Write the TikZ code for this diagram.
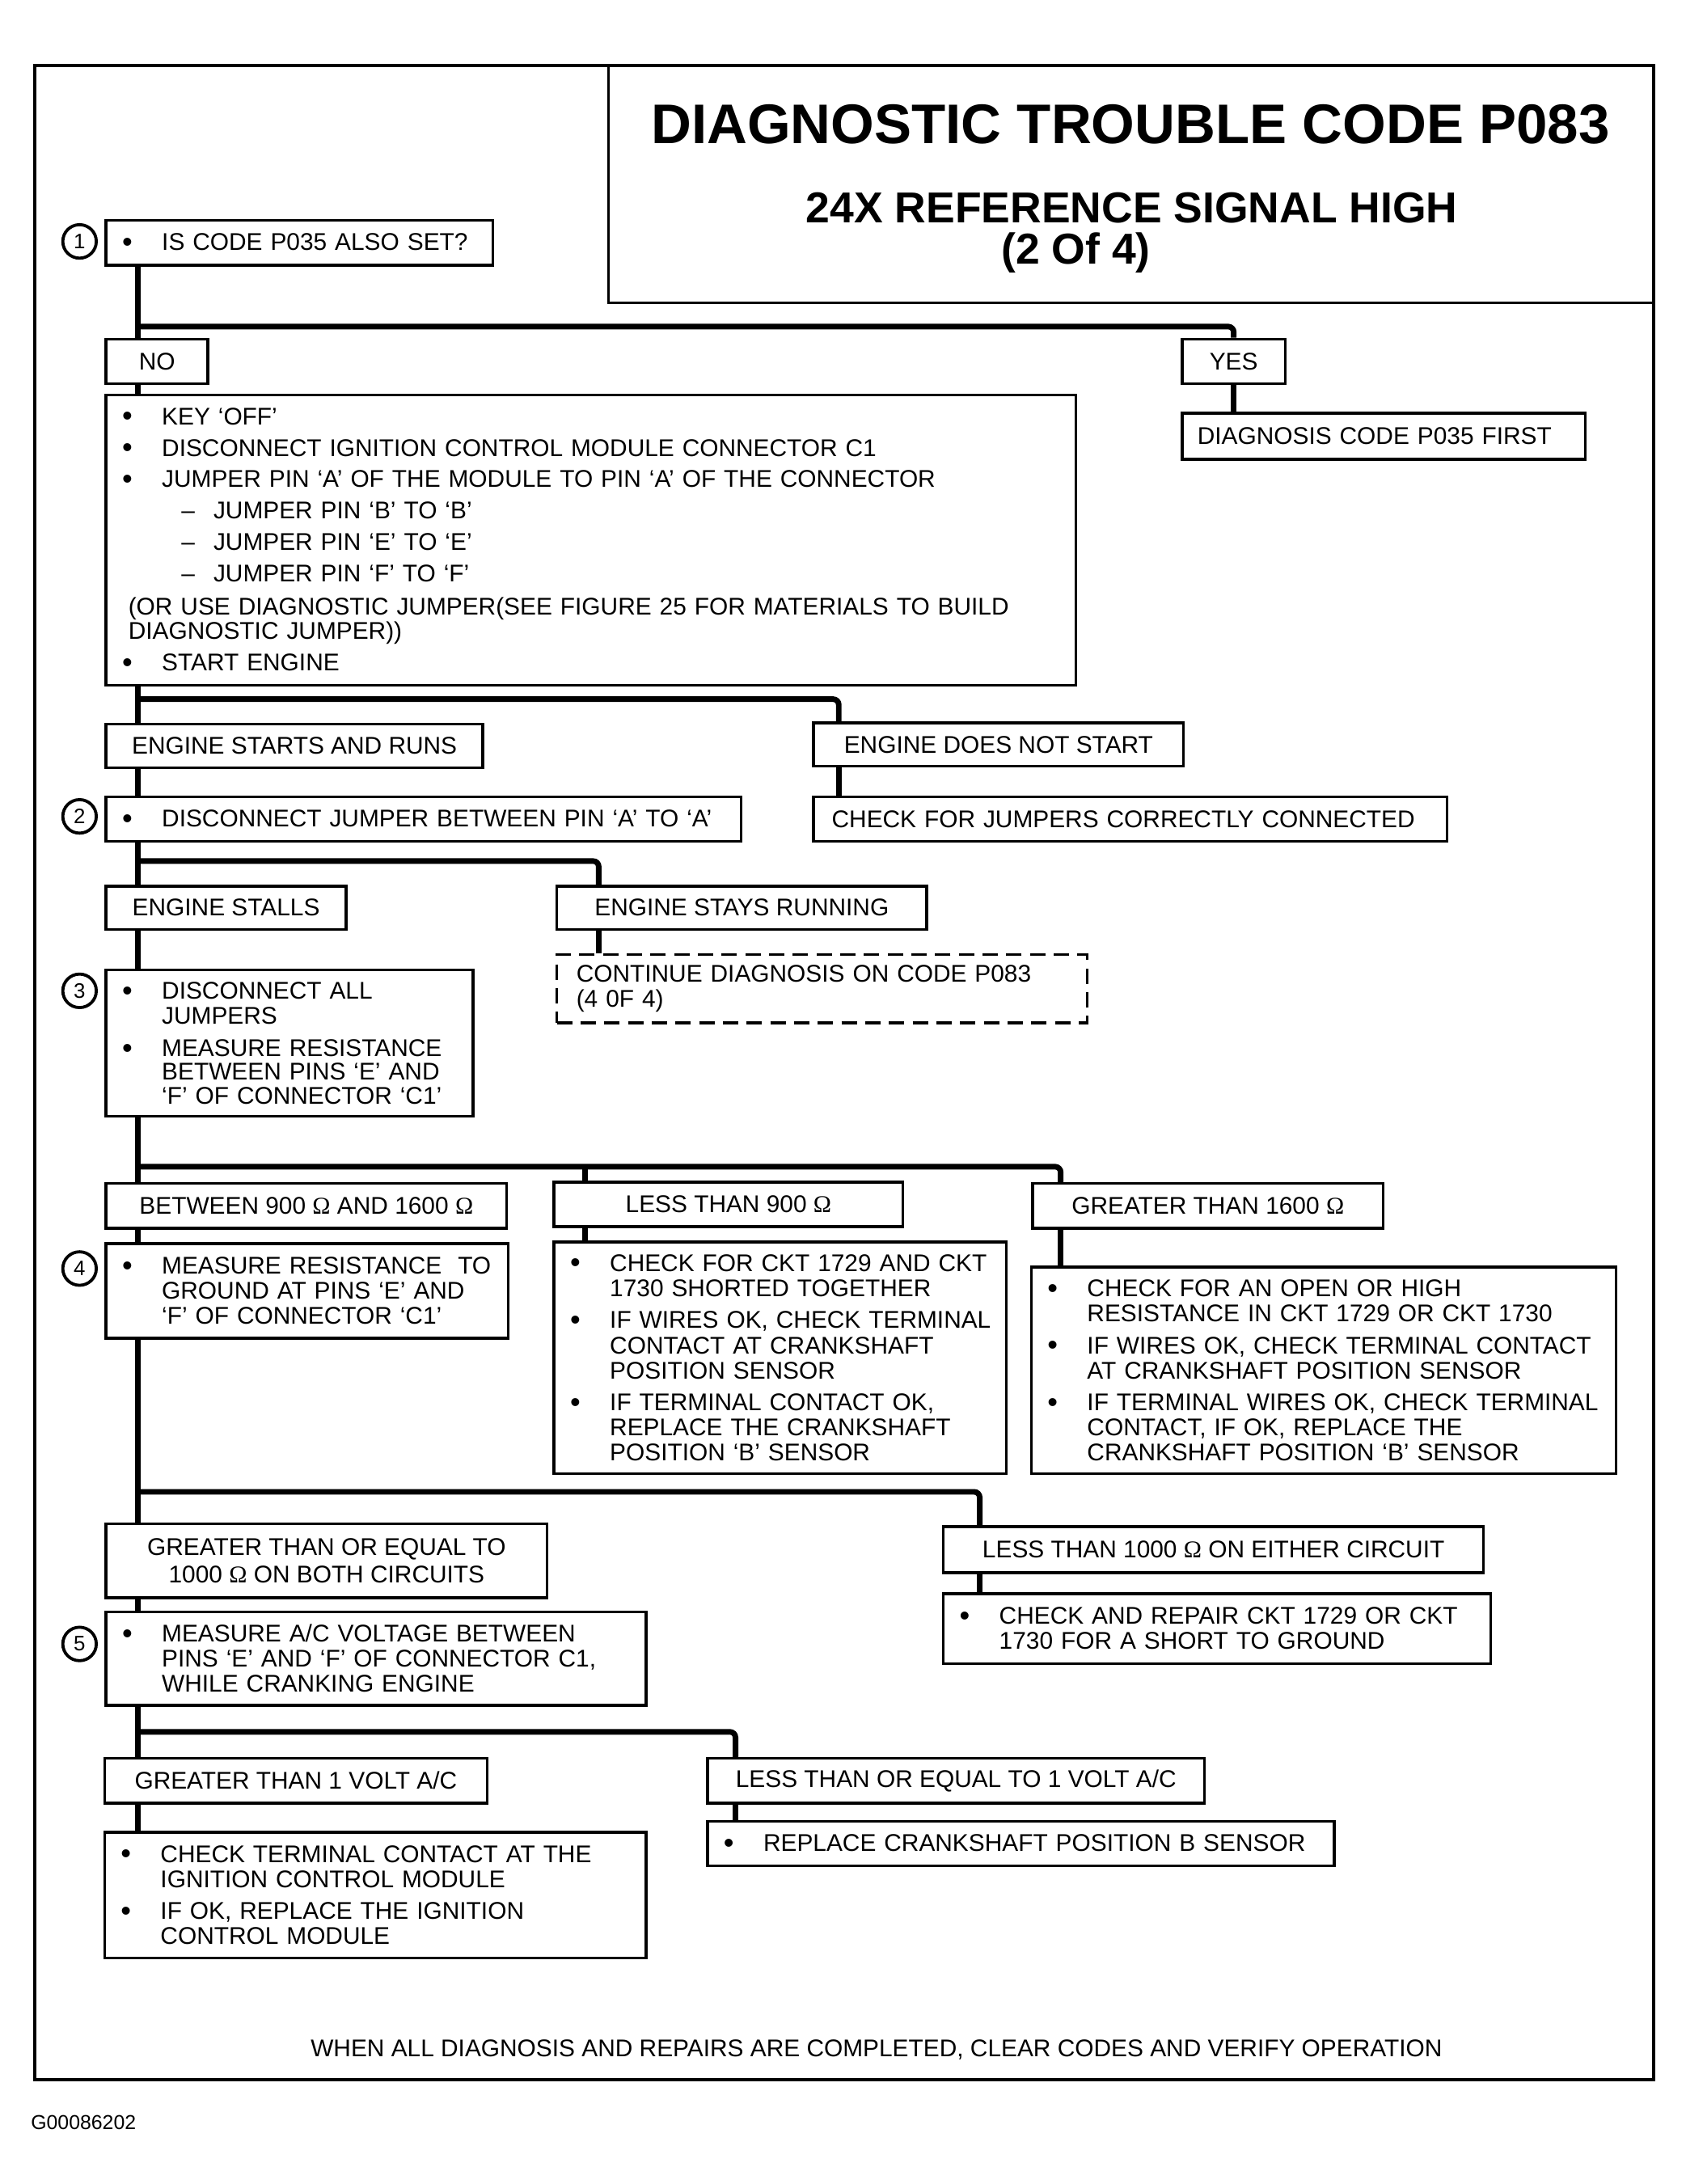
\documentclass[tikz,border=0pt]{standalone}
\usepackage{fontspec}
\setmainfont{Liberation Sans}
\newfontfamily\ohmfont{Liberation Serif}
\newcommand{\ohmsym}{{\ohmfont Ω}}
\newcommand{\bl}{\makebox[32pt][l]{\hspace{3.5pt}\raisebox{-1pt}{\fontsize{21}{18}\selectfont\textbullet}}}
\newcommand{\hg}{\hspace*{32pt}}
\newcommand{\dsh}{\hspace*{46pt}\makebox[23pt][l]{\textendash}}
\tikzset{
  box/.style={draw, line width=2pt, anchor=north west, inner xsep=8pt, inner ysep=0pt,
    font=\fontsize{17.3}{18}\selectfont},
  lbl/.style={box, align=center},
  list/.style={box, align=left},
  conn/.style={line width=4pt, rounded corners=4pt},
  num/.style={circle, draw, line width=2.2pt, minimum size=24pt, inner sep=0pt,
    font=\fontsize{15}{15}\selectfont},
}
\begin{document}
\begin{tikzpicture}[x=1pt, y=-1pt]
  \useasboundingbox (0,0) rectangle (1208,1565);
  % frame and title
  \node[draw, line width=2.2pt, anchor=north west, minimum width=1160pt, minimum height=1443pt] (frame) at (24,46) {};
  \node[draw, line width=2pt, anchor=north west, minimum width=749pt, minimum height=170pt] (titlebox) at (435,46) {};
  \node[font=\fontsize{40}{44}\selectfont\bfseries] (title) at (810,89) {DIAGNOSTIC TROUBLE CODE P083};
  \node[font=\fontsize{31}{34}\selectfont\bfseries] (subtitle) at (811,149) {24X REFERENCE SIGNAL HIGH};
  \node[font=\fontsize{31}{34}\selectfont\bfseries] (part) at (771,181) {(2 Of 4)};
  % step 1
  \node[num] (c1) at (57,173) {1};
  \node[list, minimum width=277pt, minimum height=32pt, text width=261pt] (q1) at (75,157) {\bl IS CODE P035 ALSO SET?};
  \node[lbl, minimum width=73pt, minimum height=32pt] (no) at (75,242) {NO};
  \node[lbl, minimum width=74pt, minimum height=32pt] (yes) at (846,242) {YES};
  \node[list, inner xsep=11pt, minimum width=289pt, minimum height=33pt, text width=267pt] (diag) at (846,295) {DIAGNOSIS CODE P035 FIRST};
  \node[list, minimum width=695pt, minimum height=208pt, text width=679pt] (big) at (75,282) {%
    \bl KEY `OFF'\\[4.5pt]
    \bl DISCONNECT IGNITION CONTROL MODULE CONNECTOR C1\\[4.5pt]
    \bl JUMPER PIN `A' OF THE MODULE TO PIN `A' OF THE CONNECTOR\\[4.5pt]
    \dsh JUMPER PIN `B' TO `B'\\[4.5pt]
    \dsh JUMPER PIN `E' TO `E'\\[4.5pt]
    \dsh JUMPER PIN `F' TO `F'\\[6pt]
    \hspace*{8pt}(OR USE DIAGNOSTIC JUMPER(SEE FIGURE 25 FOR MATERIALS TO BUILD\\[-1pt]
    \hspace*{8pt}DIAGNOSTIC JUMPER))\\[5pt]
    \bl START ENGINE};
  \node[lbl, minimum width=270pt, minimum height=31pt] (starts) at (75,518) {ENGINE STARTS AND RUNS};
  \node[lbl, minimum width=265pt, minimum height=31pt] (notstart) at (582,517) {ENGINE DOES NOT START};
  % step 2
  \node[num] (c2) at (57,585) {2};
  \node[list, minimum width=455pt, minimum height=32pt, text width=439pt] (disc) at (75,570) {\bl DISCONNECT JUMPER BETWEEN PIN `A' TO `A'};
  \node[list, inner xsep=13pt, minimum width=454pt, minimum height=32pt, text width=428pt] (check) at (582,570) {CHECK FOR JUMPERS CORRECTLY CONNECTED};
  \node[lbl, minimum width=172pt, minimum height=31pt] (stalls) at (75,634) {ENGINE STALLS};
  \node[lbl, minimum width=265pt, minimum height=31pt] (stays) at (398,634) {ENGINE STAYS RUNNING};
  \node[list, dash pattern=on 11pt off 6pt, inner xsep=14pt, minimum width=380pt, minimum height=49pt, text width=352pt] (cont) at (398,683) {%
    CONTINUE DIAGNOSIS ON CODE P083\\
    (4 0F 4)};
  % step 3
  \node[num] (c3) at (57,710) {3};
  \node[list, minimum width=263pt, minimum height=105pt, text width=247pt] (res) at (75,694) {%
    \bl DISCONNECT ALL\\
    \hg JUMPERS\\[5pt]
    \bl MEASURE RESISTANCE\\[-1pt]
    \hg BETWEEN PINS `E' AND\\[-1pt]
    \hg `F' OF CONNECTOR `C1'};
  \node[lbl, minimum width=287pt, minimum height=32pt] (between) at (75,847) {BETWEEN 900 \ohmsym{} AND 1600 \ohmsym};
  \node[lbl, minimum width=250pt, minimum height=32pt] (less) at (396,846) {LESS THAN 900 \ohmsym};
  \node[lbl, minimum width=251pt, minimum height=32pt] (greater) at (739,847) {GREATER THAN 1600 \ohmsym};
  % step 4
  \node[num] (c4) at (57,909) {4};
  \node[list, minimum width=288pt, minimum height=68pt, text width=272pt] (gnd) at (75,890) {%
    \bl MEASURE RESISTANCE \ TO\\
    \hg GROUND AT PINS `E' AND\\
    \hg `F' OF CONNECTOR `C1'};
  \node[list, minimum width=324pt, minimum height=166pt, text width=308pt] (shorted) at (396,889) {%
    \bl CHECK FOR CKT 1729 AND CKT\\
    \hg 1730 SHORTED TOGETHER\\[5pt]
    \bl IF WIRES OK, CHECK TERMINAL\\
    \hg CONTACT AT CRANKSHAFT\\
    \hg POSITION SENSOR\\[5pt]
    \bl IF TERMINAL CONTACT OK,\\
    \hg REPLACE THE CRANKSHAFT\\
    \hg POSITION `B' SENSOR};
  \node[list, minimum width=419pt, minimum height=148pt, text width=403pt] (openckt) at (738,907) {%
    \bl CHECK FOR AN OPEN OR HIGH\\
    \hg RESISTANCE IN CKT 1729 OR CKT 1730\\[5pt]
    \bl IF WIRES OK, CHECK TERMINAL CONTACT\\
    \hg AT CRANKSHAFT POSITION SENSOR\\[5pt]
    \bl IF TERMINAL WIRES OK, CHECK TERMINAL\\
    \hg CONTACT, IF OK, REPLACE THE\\
    \hg CRANKSHAFT POSITION `B' SENSOR};
  \node[lbl, minimum width=316pt, minimum height=53pt] (ge1000) at (75,1091) {%
    GREATER THAN OR EQUAL TO\\[2pt]
    1000 \ohmsym{} ON BOTH CIRCUITS};
  \node[lbl, minimum width=387pt, minimum height=33pt] (lt1000) at (675,1093) {LESS THAN 1000 \ohmsym{} ON EITHER CIRCUIT};
  \node[list, minimum width=392pt, minimum height=50pt, text width=376pt] (repair) at (675,1141) {%
    \bl CHECK AND REPAIR CKT 1729 OR CKT\\
    \hg 1730 FOR A SHORT TO GROUND};
  % step 5
  \node[num] (c5) at (57,1178) {5};
  \node[list, minimum width=387pt, minimum height=67pt, text width=371pt] (acv) at (75,1154) {%
    \bl MEASURE A/C VOLTAGE BETWEEN\\
    \hg PINS `E' AND `F' OF CONNECTOR C1,\\
    \hg WHILE CRANKING ENGINE};
  \node[lbl, minimum width=274pt, minimum height=32pt] (gt1v) at (74,1259) {GREATER THAN 1 VOLT A/C};
  \node[lbl, minimum width=356pt, minimum height=32pt] (lte1v) at (506,1259) {LESS THAN OR EQUAL TO 1 VOLT A/C};
  \node[list, minimum width=449pt, minimum height=32pt, text width=433pt] (replace) at (506,1304) {\bl REPLACE CRANKSHAFT POSITION B SENSOR};
  \node[list, minimum width=388pt, minimum height=90pt, text width=372pt] (icm) at (74,1312) {%
    \bl CHECK TERMINAL CONTACT AT THE\\
    \hg IGNITION CONTROL MODULE\\[5pt]
    \bl IF OK, REPLACE THE IGNITION\\
    \hg CONTROL MODULE};
  \node[font=\fontsize{17.3}{18}\selectfont] (footer) at (628,1469) {WHEN ALL DIAGNOSIS AND REPAIRS ARE COMPLETED, CLEAR CODES AND VERIFY OPERATION};
  \node[font=\fontsize{14.4}{15}\selectfont, anchor=west, inner sep=0pt] (fig) at (22,1521) {G00086202};
  % connectors
  \coordinate (t) at (99,0);
  \coordinate (j1) at (99,234);
  \coordinate (j2) at (99,501);
  \coordinate (b2) at (601,0);
  \coordinate (j3) at (99,617);
  \coordinate (b3) at (429,0);
  \coordinate (j4) at (99,836);
  \coordinate (b4) at (419,0);
  \coordinate (b5) at (760,0);
  \coordinate (j5) at (99,1069);
  \coordinate (b6) at (702,0);
  \coordinate (j6) at (99,1241);
  \coordinate (b7) at (527,0);
  \draw[conn] (q1.south -| t) -- (no.north -| t);
  \draw[conn] (j1) -| (yes.north);
  \draw[conn] (no.south -| t) -- (big.north -| t);
  \draw[conn] (yes.south) -- (yes.south |- diag.north);
  \draw[conn] (big.south -| t) -- (starts.north -| t);
  \draw[conn] (j2) -| (notstart.north -| b2);
  \draw[conn] (notstart.south -| b2) -- (check.north -| b2);
  \draw[conn] (starts.south -| t) -- (disc.north -| t);
  \draw[conn] (disc.south -| t) -- (stalls.north -| t);
  \draw[conn] (j3) -| (stays.north -| b3);
  \draw[conn] (stays.south -| b3) -- (cont.north -| b3);
  \draw[conn] (stalls.south -| t) -- (res.north -| t);
  \draw[conn] (res.south -| t) -- (between.north -| t);
  \draw[conn] (j4) -| (greater.north -| b5);
  \draw[conn] (j4 -| b4) -- (less.north -| b4);
  \draw[conn] (less.south -| b4) -- (shorted.north -| b4);
  \draw[conn] (greater.south -| b5) -- (openckt.north -| b5);
  \draw[conn] (between.south -| t) -- (gnd.north -| t);
  \draw[conn] (gnd.south -| t) -- (ge1000.north -| t);
  \draw[conn] (j5) -| (lt1000.north -| b6);
  \draw[conn] (lt1000.south -| b6) -- (repair.north -| b6);
  \draw[conn] (ge1000.south -| t) -- (acv.north -| t);
  \draw[conn] (acv.south -| t) -- (gt1v.north -| t);
  \draw[conn] (j6) -| (lte1v.north -| b7);
  \draw[conn] (lte1v.south -| b7) -- (replace.north -| b7);
  \draw[conn] (gt1v.south -| t) -- (icm.north -| t);
\end{tikzpicture}
\end{document}
